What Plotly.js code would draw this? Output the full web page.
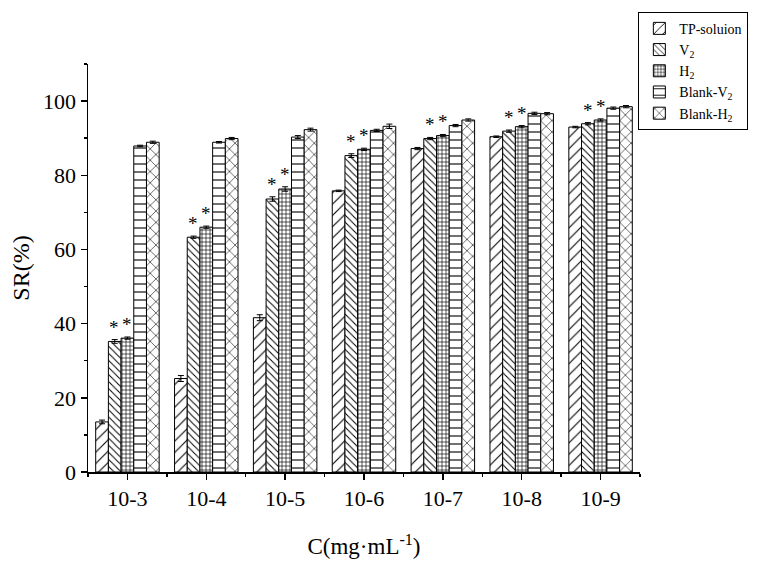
<!DOCTYPE html>
<html>
<head>
<meta charset="utf-8">
<script src="https://cdn.plot.ly/plotly-3.0.1.min.js"></script>
<style>html,body{margin:0;padding:0;background:#fff;}#chart{width:760px;height:567px;}</style>
</head>
<body>
<div id="chart"></div>
<script>
// ---- data ----
const categories = ['10-3', '10-4', '10-5', '10-6', '10-7', '10-8', '10-9'];
const seriesNames = ['TP-soluion', 'V<sub>2</sub>', 'H<sub>2</sub>', 'Blank-V<sub>2</sub>', 'Blank-H<sub>2</sub>'];
const tpSolution = [13.5, 25.2, 41.6, 75.8, 87.2, 90.4, 93.0];
const v2 = [35.2, 63.3, 73.6, 85.3, 89.9, 91.9, 93.9];
const h2 = [36.1, 66.0, 76.3, 87.0, 90.7, 93.1, 94.9];
const blankV2 = [87.9, 88.9, 90.3, 92.1, 93.4, 96.7, 98.1];
const blankH2 = [88.9, 89.9, 92.3, 93.2, 94.9, 96.6, 98.5];
const tpErr = [0.5, 0.8, 0.8, 0.2, 0.3, 0.2, 0.2];
const v2Err = [0.5, 0.3, 0.6, 0.5, 0.3, 0.3, 0.3];
const h2Err = [0.3, 0.3, 0.6, 0.3, 0.3, 0.3, 0.3];
const blankV2Err = [0.2, 0.2, 0.4, 0.3, 0.3, 0.3, 0.3];
const blankH2Err = [0.3, 0.3, 0.4, 0.6, 0.3, 0.3, 0.3];
const yTickVals = [0, 20, 40, 60, 80, 100];
const starSeries = [1, 2]; // V2 and H2 marked with *

// ---- styling ----
const values = [tpSolution, v2, h2, blankV2, blankH2];
const errors = [tpErr, v2Err, h2Err, blankV2Err, blankH2Err];
const patterns = [
  {shape: '/', size: 8, solidity: 0.14},
  {shape: '\\', size: 5, solidity: 0.2},
  {shape: '+', size: 4, solidity: 0.3},
  {shape: '-', size: 8, solidity: 0.14},
  {shape: 'x', size: 8, solidity: 0.14}
];
const xIdx = categories.map((c, i) => i);
const font = 'Liberation Serif, Times New Roman, serif';

const traces = values.map((vals, k) => ({
  type: 'bar',
  name: seriesNames[k],
  x: xIdx,
  y: vals,
  error_y: {type: 'data', array: errors[k], visible: true, color: '#000', thickness: 1, width: 3},
  marker: {
    color: '#fff',
    line: {color: '#000', width: 1},
    pattern: Object.assign({fgcolor: '#000', bgcolor: '#fff', fillmode: 'replace'}, patterns[k])
  }
}));

const margin = {l: 88, r: 108, t: 57, b: 95};
const bargap = 0.195;
const plotW = 760 - margin.l - margin.r;
const perCat = plotW / categories.length;
const barW = perCat * (1 - bargap) / values.length;

const annotations = [];
starSeries.forEach(k => {
  values[k].forEach((v, i) => {
    annotations.push({
      x: xIdx[i], y: v + errors[k][i], xref: 'x', yref: 'y',
      text: '*', showarrow: false, yanchor: 'bottom', yshift: 0,
      xshift: (k - (values.length - 1) / 2) * barW,
      font: {family: font, size: 19, color: '#000'}
    });
  });
});

const layout = {
  width: 760, height: 567,
  margin: margin,
  paper_bgcolor: '#fff', plot_bgcolor: '#fff',
  barmode: 'group', bargap: bargap, bargroupgap: 0,
  font: {family: font, color: '#000'},
  showlegend: true,
  legend: {
    x: 0.997, y: 1.128, xanchor: 'left', yanchor: 'top',
    bordercolor: '#000', borderwidth: 1, bgcolor: '#fff',
    font: {family: font, size: 14, color: '#000'},
    tracegroupgap: 0, itemwidth: 30
  },
  xaxis: {
    range: [-0.5, categories.length - 0.5],
    tickmode: 'array', tickvals: xIdx, ticktext: categories,
    ticks: 'outside', ticklen: 6, tickwidth: 1.5, tickcolor: '#000',
    minor: {tickmode: 'array', tickvals: xIdx.map(i => i - 0.5).concat([categories.length - 0.5]), ticks: 'outside', ticklen: 3, tickwidth: 1.5, tickcolor: '#000'},
    showline: true, linecolor: '#000', linewidth: 1.5, mirror: false,
    showgrid: false, zeroline: false,
    tickfont: {family: font, size: 22, color: '#000'},
    title: {text: 'C(mg·mL<sup>-1</sup>)', font: {family: font, size: 23, color: '#000'}, standoff: 28}
  },
  yaxis: {
    range: [0, 110],
    tickmode: 'array', tickvals: yTickVals,
    ticks: 'outside', ticklen: 6, tickwidth: 1.5, tickcolor: '#000',
    minor: {dtick: 10, ticks: 'outside', ticklen: 3, tickwidth: 1.5, tickcolor: '#000'},
    showline: true, linecolor: '#000', linewidth: 1.5, mirror: false,
    showgrid: false, zeroline: false,
    tickfont: {family: font, size: 22, color: '#000'},
    title: {text: 'SR(%)', font: {family: font, size: 24, color: '#000'}, standoff: 6}
  },
  annotations: annotations
};

Plotly.newPlot('chart', traces, layout, {displayModeBar: false, staticPlot: true});
</script>
</body>
</html>
